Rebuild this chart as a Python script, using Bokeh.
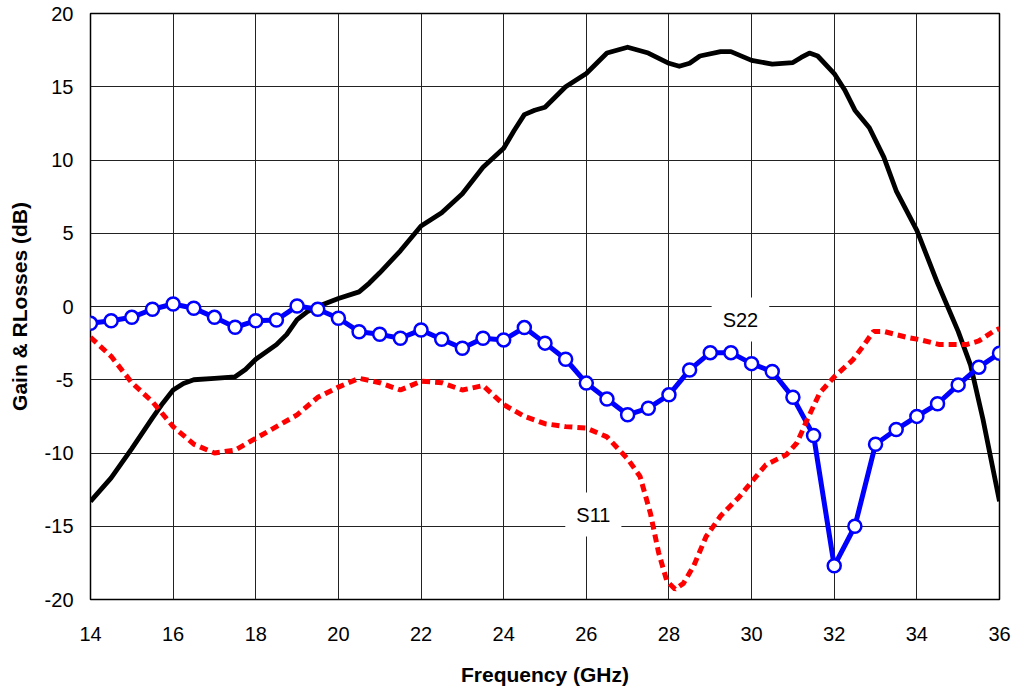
from bokeh.plotting import figure
from bokeh.models import Range1d, FixedTicker, Label
from bokeh.embed import file_html
from bokeh.resources import INLINE

# ---- data ----
gain_freq = [14, 14.5, 15, 15.5, 15.75, 16, 16.25, 16.5, 17, 17.5, 17.75, 18, 18.5, 18.75,
             19, 19.25, 19.5, 20, 20.5, 20.75, 21, 21.5, 22, 22.5, 23, 23.5, 24, 24.25,
             24.5, 24.75, 25, 25.5, 26, 26.25, 26.5, 27, 27.5, 28, 28.25, 28.5, 28.75,
             29.25, 29.5, 30, 30.5, 31, 31.2, 31.4, 31.6, 32, 32.25, 32.5, 32.85, 33.2,
             33.5, 34, 34.5, 35, 35.3, 35.6, 36]
gain_db = [-13.3, -11.7, -9.7, -7.6, -6.6, -5.7, -5.25, -5.0, -4.9, -4.8, -4.3, -3.6, -2.6,
           -1.9, -0.9, -0.35, 0.0, 0.55, 1.0, 1.6, 2.3, 3.8, 5.5, 6.4, 7.7, 9.5, 10.8, 12.0,
           13.1, 13.4, 13.6, 15.0, 15.9, 16.6, 17.3, 17.7, 17.3, 16.6, 16.4, 16.6, 17.1,
           17.4, 17.4, 16.8, 16.55, 16.65, 17.0, 17.3, 17.1, 15.9, 14.8, 13.4, 12.2, 10.2,
           7.9, 5.2, 1.6, -1.7, -4.0, -7.7, -13.3]

s22_freq = [14, 14.5, 15, 15.5, 16, 16.5, 17, 17.5, 18, 18.5, 19, 19.5, 20, 20.5, 21, 21.5,
            22, 22.5, 23, 23.5, 24, 24.5, 25, 25.5, 26, 26.5, 27, 27.5, 28, 28.5, 29, 29.5,
            30, 30.5, 31, 31.5, 32, 32.5, 33, 33.5, 34, 34.5, 35, 35.5, 36]
s22_db = [-1.15, -0.97, -0.74, -0.19, 0.17, -0.12, -0.74, -1.42, -0.97, -0.92, 0.03, -0.19,
          -0.8, -1.72, -1.9, -2.17, -1.6, -2.24, -2.85, -2.17, -2.28, -1.44, -2.5, -3.6,
          -5.23, -6.32, -7.39, -6.94, -6.03, -4.33, -3.15, -3.15, -3.9, -4.44, -6.2, -8.8,
          -17.7, -15.0, -9.4, -8.4, -7.5, -6.64, -5.35, -4.14, -3.19]

s11_freq = [14, 14.5, 15, 15.5, 16, 16.5, 17, 17.5, 18, 18.5, 19, 19.5, 20, 20.5, 21, 21.5,
            22, 22.5, 23, 23.5, 24, 24.5, 25, 25.5, 26, 26.5, 27, 27.3, 27.55, 27.75, 27.95,
            28.15, 28.35, 28.6, 28.9, 29.25, 29.7, 30.05, 30.35, 30.85, 31.1, 31.35, 31.65,
            32.0, 32.45, 32.7, 32.95, 33.2, 33.75, 34.05, 34.55, 35.2, 35.5, 35.85, 36]
s11_db = [-2.1, -3.4, -5.2, -6.5, -8.2, -9.4, -10.0, -9.8, -9.0, -8.2, -7.4, -6.2, -5.5, -4.9,
          -5.2, -5.7, -5.1, -5.2, -5.7, -5.4, -6.7, -7.5, -8.0, -8.2, -8.3, -8.9, -10.4,
          -11.6, -14.1, -16.8, -18.75, -19.3, -18.9, -17.7, -15.7, -14.3, -13.0, -11.8,
          -10.8, -10.1, -9.3, -7.7, -5.9, -4.8, -3.65, -2.7, -1.7, -1.7, -2.1, -2.25, -2.6,
          -2.6, -2.35, -1.7, -1.5]

x_ticks = [14, 16, 18, 20, 22, 24, 26, 28, 30, 32, 34, 36]
y_ticks = [-20, -15, -10, -5, 0, 5, 10, 15, 20]

FONT = "Liberation Sans"

p = figure(width=1015, height=690, output_backend="svg", toolbar_location=None,
           x_range=Range1d(14, 36), y_range=Range1d(-20, 20),
           min_border_left=90, min_border_right=16, min_border_top=13, min_border_bottom=91)

p.outline_line_color = "black"
p.outline_line_width = 1.5
p.background_fill_color = "white"
p.border_fill_color = "white"

for ax in (p.xaxis[0], p.yaxis[0]):
    ax.axis_line_color = None
    ax.major_tick_line_color = None
    ax.minor_tick_line_color = None
    ax.major_tick_out = 0
    ax.major_tick_in = 0
    ax.major_label_text_font = FONT
    ax.major_label_text_font_size = "20px"
    ax.major_label_text_color = "black"
    ax.axis_label_text_font = FONT
    ax.axis_label_text_font_size = "21px"
    ax.axis_label_text_font_style = "bold"
    ax.axis_label_text_color = "black"

p.xaxis.ticker = FixedTicker(ticks=x_ticks)
p.yaxis.ticker = FixedTicker(ticks=y_ticks)
p.xaxis.major_label_overrides = {t: str(t) for t in x_ticks}
p.yaxis.major_label_overrides = {t: str(t) for t in y_ticks}
p.xaxis.major_label_standoff = 27
p.yaxis.major_label_standoff = 17
p.xaxis.axis_label = "Frequency (GHz)"
p.yaxis.axis_label = "Gain & RLosses (dB)"
p.xaxis.axis_label_standoff = 19
p.yaxis.axis_label_standoff = 11

for g in (p.xgrid[0], p.ygrid[0]):
    g.grid_line_color = "#222222"
    g.grid_line_width = 1

# Gain
p.line(gain_freq, gain_db, line_color="black", line_width=4.8, line_join="round")

# S22
p.line(s22_freq, s22_db, line_color="#0000ff", line_width=5, line_join="round")
p.scatter(s22_freq, s22_db, marker="circle", size=13, fill_color="white",
          line_color="#0000ff", line_width=2.5)

# S11
p.line(s11_freq, s11_db, line_color="#ff0000", line_width=5, line_dash="8 5")

lab_s22 = Label(x=29.73, y=-0.89, text="S22", text_font=FONT, text_font_size="20px",
                text_align="center", text_baseline="middle", text_color="black",
                background_fill_color="white", padding=11)
lab_s11 = Label(x=26.17, y=-14.2, text="S11", text_font=FONT, text_font_size="20px",
                text_align="center", text_baseline="middle", text_color="black",
                background_fill_color="white", padding=11)
p.add_layout(lab_s22)
p.add_layout(lab_s11)

open("out.html", "w").write(file_html(p, INLINE))
